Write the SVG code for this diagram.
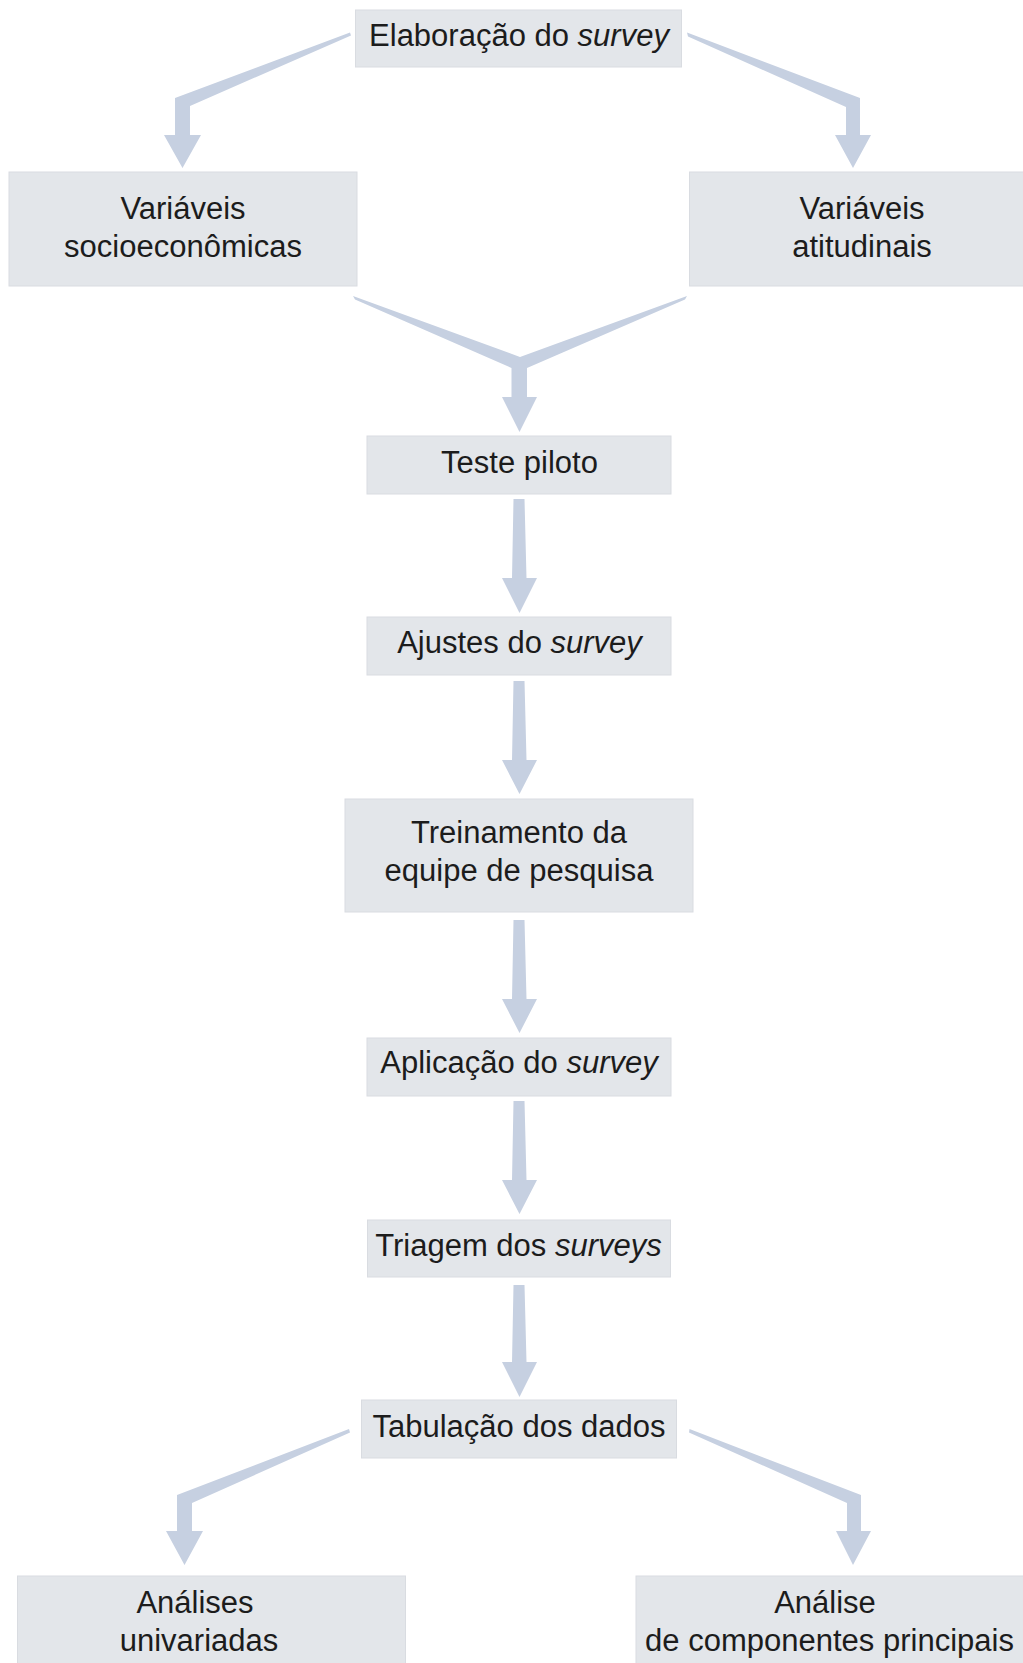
<svg xmlns="http://www.w3.org/2000/svg" width="1023" height="1663" viewBox="0 0 1023 1663">
<style>
.box{fill:#e3e6ea;stroke:#d9dce1;stroke-width:1}
.arr{fill:#c6d0e1}
text{font-family:"Liberation Sans",Arial,Helvetica,sans-serif;font-size:31px;fill:#1c1c1c;text-anchor:middle}
.it{font-style:italic}
</style>
<rect width="1023" height="1663" fill="#ffffff"/>
<g id="connectors">
<polygon class="arr" points="350,32.5 175,98 175,135 164,135 182.5,168 201,135 190,135 190,106 351,35.5"/>
<polygon class="arr" points="687,32.5 860,98 860,135 871,135 853,168 835,135 846,135 846,107 688,36.5"/>
<polygon class="arr" points="353,296 520,357 687,296 685,299.5 527,368 527,397 537,397 519.5,432 502,397 511.5,397 511.5,368 355,299.5"/>
<polygon class="arr" points="513.5,499 524.5,499 526.5,578 537,578 519.5,613 502,578 512,578"/>
<polygon class="arr" points="513.5,681 524.5,681 526.5,760 537,760 519.5,794 502,760 512,760"/>
<polygon class="arr" points="513.5,920 524.5,920 526.5,999 537,999 519.5,1033 502,999 512,999"/>
<polygon class="arr" points="513.5,1101 524.5,1101 526.5,1180 537,1180 519.5,1214 502,1180 512,1180"/>
<polygon class="arr" points="513.5,1285 524.5,1285 526.5,1362 537,1362 519.5,1397 502,1362 512,1362"/>
<polygon class="arr" points="349,1429 177,1495 177,1531 166,1531 184.5,1565 203,1531 192,1531 192,1503 350,1432.5"/>
<polygon class="arr" points="689.5,1429 861,1495 861,1531 871,1531 853,1565 836,1531 847,1531 847,1503 689,1432.5"/>
</g>
<g id="n-elaboracao">
<rect class="box" x="355.5" y="10" width="326" height="57"/>
<text x="519" y="46">Elaboração do <tspan class="it">survey</tspan></text>
</g>
<g id="n-socio">
<rect class="box" x="9" y="172" width="348" height="114"/>
<text x="183" y="219">Variáveis</text>
<text x="183" y="257">socioeconômicas</text>
</g>
<g id="n-atitudinais">
<rect class="box" x="689.5" y="172" width="340" height="114"/>
<text x="862" y="219">Variáveis</text>
<text x="862" y="257">atitudinais</text>
</g>
<g id="n-teste">
<rect class="box" x="367" y="436" width="304" height="58"/>
<text x="519.5" y="473">Teste piloto</text>
</g>
<g id="n-ajustes">
<rect class="box" x="367" y="617" width="304" height="58"/>
<text x="519.5" y="653">Ajustes do <tspan class="it">survey</tspan></text>
</g>
<g id="n-treinamento">
<rect class="box" x="345" y="799" width="348" height="113"/>
<text x="519" y="843">Treinamento da</text>
<text x="519" y="881">equipe de pesquisa</text>
</g>
<g id="n-aplicacao">
<rect class="box" x="367" y="1038" width="304" height="58"/>
<text x="519" y="1073">Aplicação do <tspan class="it">survey</tspan></text>
</g>
<g id="n-triagem">
<rect class="box" x="367.5" y="1220" width="303" height="57"/>
<text x="518.5" y="1256">Triagem dos <tspan class="it">surveys</tspan></text>
</g>
<g id="n-tabulacao">
<rect class="box" x="361.5" y="1400" width="315" height="58"/>
<text x="519" y="1437">Tabulação dos dados</text>
</g>
<g id="n-univariadas">
<rect class="box" x="17.5" y="1576" width="388" height="100"/>
<text x="195" y="1613">Análises</text>
<text x="199" y="1651">univariadas</text>
</g>
<g id="n-componentes">
<rect class="box" x="636" y="1576" width="400" height="100"/>
<text x="825" y="1613">Análise</text>
<text x="829.5" y="1651">de componentes principais</text>
</g>
</svg>
